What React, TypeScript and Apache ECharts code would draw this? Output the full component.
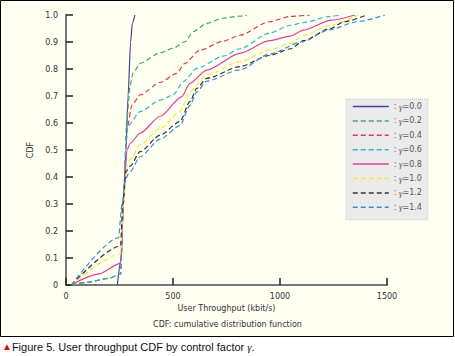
import React, { useEffect, useRef } from "react";
import * as echarts from "echarts";

const gammas = ["0.0", "0.2", "0.4", "0.6", "0.8", "1.0", "1.2", "1.4"];
const colors = ["#4e3e92", "#3caa6e", "#d0405a", "#30b4dc", "#e0409c", "#eeee3a", "#333333", "#3c8cd0"];
const dashed = [false, true, true, true, false, true, true, true];

const cdf00 = [[240, 0], [258, 0.1], [268, 0.3], [280, 0.5], [290, 0.7], [302, 0.9], [310, 0.97], [322, 1.0]];
const cdf02 = [[25, 0], [100, 0.01], [200, 0.025], [255, 0.04], [268, 0.3], [285, 0.62], [300, 0.74], [313, 0.785], [346, 0.821], [440, 0.86], [501, 0.877], [556, 0.901], [594, 0.938], [657, 0.969], [734, 0.988], [813, 0.996], [846, 1.0]];
const cdf04 = [[25, 0], [100, 0.01], [200, 0.025], [255, 0.04], [268, 0.3], [285, 0.58], [309, 0.667], [346, 0.704], [440, 0.75], [517, 0.784], [556, 0.821], [626, 0.87], [735, 0.903], [813, 0.925], [950, 0.975], [1050, 0.995], [1140, 1.0]];
const cdf06 = [[25, 0], [100, 0.01], [200, 0.025], [255, 0.04], [268, 0.3], [280, 0.52], [290, 0.59], [346, 0.642], [440, 0.685], [501, 0.704], [548, 0.753], [611, 0.802], [735, 0.848], [813, 0.875], [950, 0.933], [1050, 0.962], [1110, 0.972], [1235, 0.995], [1290, 1.0]];
const cdf08 = [[25, 0], [150, 0.04], [255, 0.08], [268, 0.3], [285, 0.5], [300, 0.525], [346, 0.562], [440, 0.625], [540, 0.697], [579, 0.747], [657, 0.796], [813, 0.858], [950, 0.905], [1050, 0.922], [1110, 0.944], [1235, 0.98], [1350, 1.0]];
const cdf10 = [[25, 0], [255, 0.115], [268, 0.3], [285, 0.44], [300, 0.465], [346, 0.519], [440, 0.58], [532, 0.642], [579, 0.716], [657, 0.778], [813, 0.827], [950, 0.87], [1050, 0.895], [1110, 0.925], [1235, 0.962], [1365, 1.0]];
const cdf12 = [[25, 0], [255, 0.145], [265, 0.3], [280, 0.42], [300, 0.44], [346, 0.494], [440, 0.555], [532, 0.605], [579, 0.679], [611, 0.728], [657, 0.765], [813, 0.809], [950, 0.85], [1050, 0.875], [1110, 0.905], [1235, 0.95], [1300, 0.975], [1405, 1.0]];
const cdf14 = [[25, 0], [245, 0.175], [262, 0.3], [275, 0.38], [290, 0.41], [300, 0.42], [346, 0.475], [440, 0.54], [532, 0.59], [579, 0.665], [611, 0.715], [657, 0.755], [813, 0.797], [950, 0.855], [1100, 0.9], [1230, 0.945], [1360, 0.975], [1490, 1.0]];
const allData = [cdf00, cdf02, cdf04, cdf06, cdf08, cdf10, cdf12, cdf14];

const yTicks = ["0", "0.1", "0.2", "0.3", "0.4", "0.5", "0.6", "0.7", "0.8", "0.9", "1.0"];

export default function App() {
  const ref = useRef<HTMLDivElement>(null);
  useEffect(() => {
    const chart = echarts.init(ref.current!, null, { renderer: "svg" });
    const font = "DejaVu Sans";
    const series = gammas.map((g, i) => ({
      name: "γ=" + g,
      type: "line",
      data: allData[i],
      showSymbol: false,
      symbol: "none",
      smooth: 0.25,
      smoothMonotone: "x",
      lineStyle: { color: colors[i], width: 1.2, type: dashed[i] ? [5, 3] : "solid" },
      itemStyle: { color: colors[i] },
    }));
    chart.setOption({
      animation: false,
      backgroundColor: "#ffffff",
      textStyle: { fontFamily: font },
      graphic: [
        { type: "rect", z: -10, shape: { x: 0.5, y: 0.5, width: 453, height: 336 }, style: { fill: "#fffff2", stroke: "#000", lineWidth: 1 } },
        { type: "text", left: "center", top: 320, style: { text: "CDF: cumulative distribution function", fill: "#333", font: "8px " + font } },
        {
          type: "text", left: 2, top: 341,
          style: {
            text: "{t|▲}{c|Figure 5. User throughput CDF by control factor }{g|γ}{c|.}",
            rich: {
              t: { fill: "#d01010", fontSize: 10, fontFamily: "Liberation Sans" },
              c: { fill: "#111", fontSize: 11, fontFamily: "Liberation Sans" },
              g: { fill: "#111", fontSize: 11, fontFamily: "Liberation Serif", fontStyle: "italic" },
            },
          },
        },
      ],
      grid: { left: 66, top: 15, width: 321, height: 270 },
      xAxis: {
        type: "value", min: 0, max: 1500, interval: 500,
        name: "User Throughput (kbit/s)", nameLocation: "middle", nameGap: 19,
        nameTextStyle: { fontSize: 8, color: "#333" },
        axisLine: { lineStyle: { color: "#777", width: 2 } },
        axisTick: { inside: true, length: 7, lineStyle: { color: "#222", width: 1.5 } },
        axisLabel: { fontSize: 8, color: "#333", margin: 7, formatter: (v: number) => String(v) },
        splitLine: { show: false },
      },
      yAxis: {
        type: "value", min: 0, max: 1, interval: 0.1,
        name: "CDF", nameLocation: "middle", nameGap: 29, nameRotate: 90,
        nameTextStyle: { fontSize: 8, color: "#333" },
        axisLine: { show: true, lineStyle: { color: "#777", width: 2 } },
        axisTick: { show: true, inside: true, length: 7, lineStyle: { color: "#222", width: 1.5 } },
        axisLabel: {
          fontSize: 8, color: "#333", margin: 8,
          formatter: (v: number) => yTicks[Math.round(v * 10)],
        },
        splitLine: { show: false },
      },
      legend: {
        orient: "vertical", left: 346, top: 99,
        backgroundColor: "#ebebeb", borderColor: "#c8c8c8", borderWidth: 1, borderType: "dotted",
        padding: [3, 6, 8, 6], itemWidth: 36, itemHeight: 10, itemGap: 5.4,
        itemStyle: { opacity: 0 },
        lineStyle: { width: 1.5 },
        formatter: (n: string) => "{a|: }{g|γ}{a|=" + n.slice(2) + "}",
        textStyle: {
          fontSize: 8, color: "#555",
          rich: { a: { fontSize: 8, color: "#555" }, g: { fontSize: 9, color: "#555", fontStyle: "italic", fontFamily: "Liberation Serif" } },
        },
      },
      series,
    });
    return () => chart.dispose();
  }, []);
  return <div ref={ref} style={{ position: "absolute", left: 0, top: 0, width: 455, height: 356 }} />;
}
